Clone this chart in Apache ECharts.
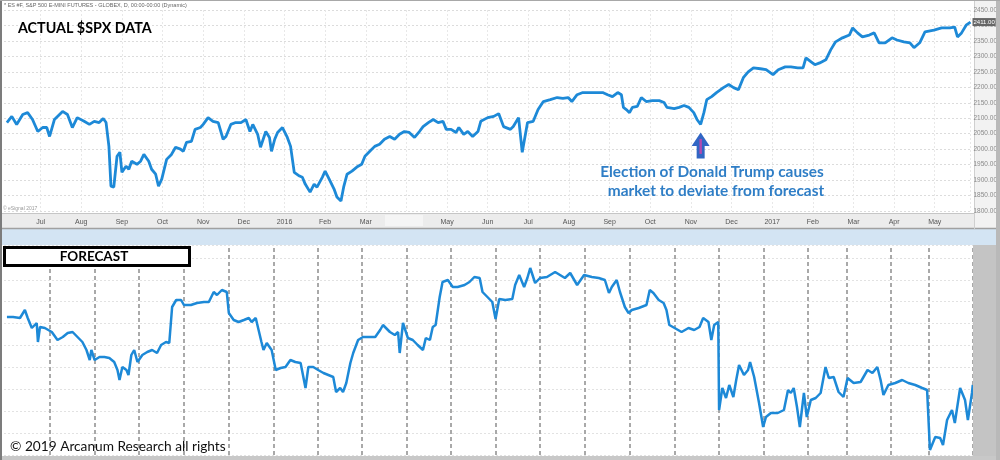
<!DOCTYPE html>
<html>
<head>
<meta charset="utf-8">
<script src="https://cdn.jsdelivr.net/npm/echarts@6/dist/echarts.min.js"></script>
<style>
html,body{margin:0;padding:0;background:#fff;}
#c{width:1000px;height:460px;}
</style>
</head>
<body>
<div id="c"></div>
<script>
// ---- DATA ----
// x in months since Jul 2015 (0 = Jul 2015, 6 = Jan 2016, 18 = Jan 2017)
const monthLabels = ['Jun','Jul','Aug','Sep','Oct','Nov','Dec','2016','Feb','Mar','','May','Jun','Jul','Aug','Sep','Oct','Nov','Dec','2017','Feb','Mar','Apr','May'];
const priceTicks = [1800, 2450, 50];

const actualMonth = [-0.83,-0.71,-0.59,-0.44,-0.32,-0.20,-0.07,0.05,0.15,0.22,
0.34,0.54,0.66,0.78,0.90,1.07,1.20,1.32,1.44,1.54,
1.61,1.68,1.73,1.80,1.88,1.95,2.00,2.10,2.17,2.24,
2.37,2.46,2.54,2.66,2.73,2.83,2.90,2.98,3.10,3.22,
3.32,3.44,3.51,3.59,3.71,3.80,3.93,4.00,4.12,4.24,
4.37,4.49,4.56,4.68,4.80,4.93,5.05,5.15,5.22,5.34,
5.41,5.54,5.63,5.68,5.76,5.83,5.95,6.07,6.15,6.24,
6.37,6.44,6.51,6.63,6.73,6.80,6.93,7.00,7.10,7.22,
7.29,7.39,7.46,7.54,7.66,7.78,7.90,7.98,8.10,8.22,
8.34,8.46,8.59,8.71,8.83,8.95,9.07,9.20,9.32,9.41,
9.54,9.66,9.78,9.90,9.98,10.10,10.22,10.29,10.41,10.51,
10.63,10.76,10.83,11.00,11.15,11.27,11.39,11.56,11.63,11.76,
11.85,11.98,12.12,12.24,12.37,12.54,12.71,12.85,12.98,13.07,
13.20,13.34,13.51,13.68,13.83,13.95,14.07,14.20,14.29,14.34,
14.41,14.49,14.56,14.68,14.78,14.90,15.05,15.22,15.34,15.41,
15.59,15.71,15.83,15.95,16.07,16.15,16.24,16.32,16.39,16.51,
16.63,16.80,16.93,17.05,17.17,17.29,17.41,17.54,17.71,17.85,
18.02,18.15,18.32,18.46,18.63,18.76,18.83,18.95,19.05,19.17,
19.32,19.44,19.56,19.73,19.90,19.98,20.10,20.22,20.39,20.51,
20.63,20.78,20.95,21.07,21.24,21.39,21.49,21.63,21.76,21.98,
22.17,22.37,22.49,22.56,22.66,22.78,22.88];

const actualPrice = [2086,2106,2080,2112,2118,2096,2057,2070,2070,2041,
2096,2122,2112,2070,2102,2090,2080,2090,2086,2099,
2086,2009,1880,1877,1977,1990,1925,1945,1935,1961,
1951,1961,1983,1961,1935,1919,1880,1903,1967,1983,
2006,2000,1993,2022,2025,2064,2070,2080,2102,2090,
2086,2032,2041,2080,2086,2086,2096,2057,2080,2048,
2006,2057,2038,1993,2032,2054,2070,2038,2009,1925,
1913,1909,1887,1861,1887,1877,1909,1929,1903,1871,
1845,1832,1880,1919,1929,1942,1951,1977,1993,2009,
2016,2032,2041,2032,2048,2057,2054,2038,2057,2073,
2086,2096,2086,2090,2064,2064,2054,2070,2048,2057,
2041,2057,2090,2102,2106,2115,2073,2064,2073,2102,
1990,2086,2090,2128,2154,2160,2167,2164,2167,2154,
2176,2183,2183,2183,2183,2176,2170,2183,2176,2135,
2128,2118,2135,2138,2167,2154,2157,2157,2151,2135,
2131,2135,2141,2135,2118,2096,2080,2118,2160,2170,
2183,2199,2209,2199,2192,2231,2250,2263,2260,2257,
2241,2257,2266,2266,2263,2263,2295,2283,2273,2279,
2289,2321,2347,2360,2369,2392,2376,2363,2369,2376,
2344,2344,2360,2353,2347,2344,2328,2344,2379,2385,
2392,2392,2395,2363,2376,2402,2411];

const forecastMonth = [-0.83,-0.68,-0.51,-0.39,-0.32,-0.22,-0.10,-0.07,-0.02,0.10,
0.27,0.41,0.54,0.66,0.78,0.90,1.02,1.12,1.20,1.24,
1.32,1.44,1.56,1.68,1.80,1.88,1.93,2.00,2.10,2.15,
2.22,2.29,2.37,2.49,2.61,2.73,2.85,2.95,3.07,3.15,
3.22,3.32,3.44,3.51,3.68,3.83,4.00,4.12,4.24,4.32,
4.44,4.56,4.61,4.73,4.85,4.98,5.10,5.17,5.27,5.34,
5.41,5.46,5.54,5.66,5.76,5.88,6.00,6.12,6.24,6.37,
6.49,6.56,6.68,6.80,6.93,7.05,7.17,7.24,7.34,7.41,
7.49,7.59,7.66,7.78,7.90,8.07,8.20,8.32,8.39,8.56,
8.68,8.76,8.80,8.88,9.00,9.12,9.24,9.37,9.44,9.54,
9.61,9.68,9.78,9.85,9.98,10.10,10.22,10.39,10.51,10.63,
10.76,10.83,10.95,11.07,11.15,11.24,11.39,11.56,11.63,11.73,
11.85,11.93,12.00,12.12,12.24,12.41,12.61,12.73,12.85,12.98,
13.15,13.32,13.51,13.68,13.83,13.93,14.00,14.12,14.20,14.32,
14.41,14.49,14.66,14.85,14.93,15.02,15.15,15.27,15.34,15.41,
15.54,15.71,15.88,16.02,16.15,16.24,16.37,16.44,16.51,16.61,
16.63,16.71,16.80,16.88,16.98,17.05,17.12,17.24,17.34,17.39,
17.49,17.61,17.71,17.78,17.90,18.07,18.22,18.32,18.39,18.46,
18.54,18.61,18.71,18.78,18.88,19.00,19.12,19.24,19.32,19.44,
19.56,19.68,19.78,19.93,20.10,20.27,20.39,20.51,20.59,20.66,
20.78,20.95,21.12,21.27,21.44,21.61,21.73,21.76,21.80,21.93,
22.05,22.12,22.22,22.34,22.41,22.54,22.66,22.73,22.83,22.85];

const forecastValue = [138,138,137,145,137,127,132,113,128,127,
123,115,118,122,123,118,113,105,95,105,
95,98,98,97,93,85,75,88,85,80,
100,105,93,100,103,105,102,110,113,112,
148,155,155,150,150,152,153,153,163,160,
165,163,142,135,133,135,137,133,137,125,
113,105,112,105,85,87,88,95,93,92,
67,88,88,85,82,80,78,63,67,63,
72,92,102,115,118,118,118,125,130,123,
120,123,102,132,117,115,110,105,117,115,
128,130,158,173,175,168,168,170,173,178,
177,163,158,153,136,156,155,156,170,180,
168,177,187,172,177,178,183,180,177,182,
170,180,178,177,175,162,168,175,163,148,
142,145,147,150,165,162,155,152,145,130,
127,123,127,125,128,137,133,115,130,133,
45,67,57,70,58,75,90,80,85,93,
78,52,28,38,42,42,45,65,62,67,
48,28,62,38,55,57,62,88,77,78,
63,58,77,72,73,85,82,88,75,60,
70,72,75,72,70,67,65,63,5,18,
17,10,35,45,32,67,55,35,62,70];

// dashed period separators in the forecast panel (months)
const forecastGuides = [0.22,1.32,2.41,3.51,4.61,5.71,6.78,7.88,8.98,10.05,11.15,12.24,13.34,14.44,15.54,16.63,17.73,18.80,19.76,20.85,21.78,22.85];

const electionMonth = 16.24;
const electionPrice = 2080;

// ---- CHART ----
const chart = echarts.init(document.getElementById('c'), null, {renderer:'canvas'});
const actualData = actualMonth.map((m,i)=>[m, actualPrice[i]]);
const forecastData = forecastMonth.map((m,i)=>[m, forecastValue[i]]);
const LINE = '#1d89d7';
const FONT = 'Lato, "Open Sans", sans-serif';

const option = {
  animation:false,
  backgroundColor:'#ffffff',
  grid:[
    {left:-5, right:26, top:10, bottom:249},
    {left:-5, right:26, top:245, bottom:5}
  ],
  xAxis:[
    {gridIndex:0, type:'value', min:-1, max:22.88, interval:1,
     axisLine:{show:false}, axisTick:{show:false},
     axisLabel:{show:true, margin:8, fontSize:7, color:'#555', fontFamily:'Liberation Sans',
       showMinLabel:false, showMaxLabel:false,
       formatter:v=>monthLabels[Math.round(v)+1]||''},
     splitLine:{show:true, lineStyle:{color:'#e8e8e8', type:[2,2], width:1}}},
    {gridIndex:1, type:'value', min:-1, max:22.88, show:false}
  ],
  yAxis:[
    {gridIndex:0, type:'value', position:'right', min:priceTicks[0], max:priceTicks[1], interval:priceTicks[2],
     axisLine:{show:false}, axisTick:{show:false},
     axisLabel:{margin:3, fontSize:6.5, color:'#8a8a8a', fontFamily:'Liberation Sans', formatter:v=>v.toFixed(2)},
     splitLine:{show:true, lineStyle:{color:'#dcdcdc', type:[2,2], width:1}}},
    {gridIndex:1, type:'value', min:0, max:210, show:false},
    {gridIndex:1, type:'value', min:-13.9, max:196.1, interval:21.9,
     axisLine:{show:false}, axisTick:{show:false}, axisLabel:{show:false},
     splitLine:{show:true, lineStyle:{color:'#e2e2e2', type:[2,2], width:1}}}
  ],
  series:[
    {type:'line', name:'Actual', xAxisIndex:0, yAxisIndex:0, data:actualData,
     showSymbol:false, symbol:'none', z:5,
     lineStyle:{color:LINE, width:2.8},
     endLabel:{show:true, distance:2, fontSize:6, color:'#fff', backgroundColor:'#666',
       padding:[1,1], fontFamily:'Liberation Sans', formatter:p=>p.value[1].toFixed(2)},
     markPoint:{silent:true, label:{show:false}, data:[
       {coord:[electionMonth, electionPrice], symbol:'path://M9,0 L18,13 L13,13 L13,25 L5,25 L5,13 L0,13 Z',
        symbolSize:[18,26], symbolOffset:[0,21], itemStyle:{color:'#3166c4'}},
       {coord:[electionMonth, electionPrice], symbol:'rect', symbolSize:[2.5,15], symbolOffset:[0,22],
        itemStyle:{color:'#b04ab0'}}
     ]}
    },
    {type:'line', name:'Forecast', xAxisIndex:1, yAxisIndex:1, data:forecastData,
     showSymbol:false, symbol:'none', z:5,
     lineStyle:{color:LINE, width:2.5},
     markLine:{silent:true, symbol:'none', label:{show:false}, z:1,
       lineStyle:{color:'#a9a9a9', width:2, type:[4,3]},
       data:forecastGuides.map(g=>({xAxis:g}))}
    }
  ],
  graphic:[
    {type:'rect', z:-10, shape:{x:0,y:213,width:974,height:15}, style:{fill:'#ececec'}},
    {type:'rect', z:-9, shape:{x:385,y:215,width:38,height:11}, style:{fill:'#f5f5f5'}},
    {type:'line', z:-9, shape:{x1:0,y1:213.5,x2:974,y2:213.5}, style:{stroke:'#c6c6c6',lineWidth:1}},
    {type:'line', z:-9, shape:{x1:0,y1:228.5,x2:1000,y2:228.5}, style:{stroke:'#a0a0a0',lineWidth:1.5}},
    {type:'rect', z:-10, shape:{x:0,y:229,width:1000,height:16}, style:{fill:'#d3e4f3'}},
    {type:'rect', z:-10, shape:{x:974,y:0,width:26,height:229}, style:{fill:'#f2f2f2'}},
    {type:'line', z:-9, shape:{x1:974.5,y1:0,x2:974.5,y2:229}, style:{stroke:'#cfcfcf',lineWidth:1}},
    {type:'rect', z:50, shape:{x:973,y:245,width:27,height:211}, style:{fill:'#c4c4c4'}},
    {type:'rect', z:60, shape:{x:0,y:456,width:1000,height:4}, style:{fill:'#c8c8c8'}},
    {type:'rect', z:60, shape:{x:0,y:0,width:2,height:460}, style:{fill:'#7c7c7c'}},
    {type:'rect', z:60, shape:{x:996,y:0,width:4,height:460}, style:{fill:'#b9b9b9'}},
    {type:'rect', z:60, shape:{x:0,y:0,width:1000,height:1}, style:{fill:'#a8a8a8'}},
    {type:'text', z:70, style:{x:4, y:5.5, text:'* ES #F, S&P 500 E-MINI FUTURES - GLOBEX, D, 00:00-00:00 (Dynamic)',
      fontSize:5.5, fill:'#666', fontFamily:'Liberation Sans', verticalAlign:'middle'}},
    {type:'text', z:70, style:{x:18, y:28, text:'ACTUAL $SPX DATA', fontSize:14.3, fontWeight:'bold',
      fill:'#000', fontFamily:FONT, verticalAlign:'middle'}},
    {type:'text', z:70, style:{x:3, y:209, text:'© eSignal 2017', fontSize:5, fill:'#999',
      fontFamily:'Liberation Sans', verticalAlign:'middle'}},
    {type:'text', z:70, style:{x:712, y:172, text:'Election of Donald Trump causes', fontSize:15.4, fontWeight:'bold',
      fill:'#2f7ec6', fontFamily:FONT, align:'center', verticalAlign:'middle'}},
    {type:'text', z:70, style:{x:716, y:191, text:'market to deviate from forecast', fontSize:15.4, fontWeight:'bold',
      fill:'#2f7ec6', fontFamily:FONT, align:'center', verticalAlign:'middle'}},
    {type:'rect', z:70, shape:{x:4.5,y:247.5,width:185,height:18}, style:{fill:'#fff', stroke:'#000', lineWidth:3}},
    {type:'text', z:71, style:{x:94, y:257, text:'FORECAST', fontSize:13.5, fontWeight:'bold',
      fill:'#000', fontFamily:FONT, align:'center', verticalAlign:'middle'}},
    {type:'text', z:70, style:{x:10, y:447, text:'© 2019 Arcanum Research all rights', fontSize:13.7,
      fill:'#111', fontFamily:FONT, verticalAlign:'middle'}}
  ]
};
chart.setOption(option);
</script>
</body>
</html>
